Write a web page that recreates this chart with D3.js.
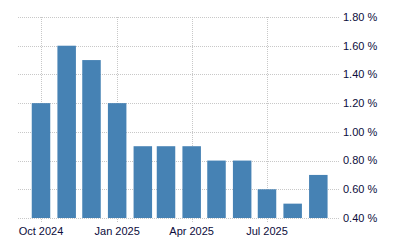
<!DOCTYPE html>
<html>
<head>
<meta charset="utf-8">
<script src="https://cdn.jsdelivr.net/npm/d3@7"></script>
<style>
  body { margin: 0; background: #fff; }
  svg { display: block; }
  text { font-family: "Liberation Sans", Arial, sans-serif; font-size: 11px; fill: #0c0c3c; }
</style>
</head>
<body>
<svg id="chart" width="400" height="250"></svg>
<script>
// monthly values, Oct 2024 .. Sep 2025
const months = ['2024-10', '2024-11', '2024-12', '2025-01', '2025-02', '2025-03',
  '2025-04', '2025-05', '2025-06', '2025-07', '2025-08', '2025-09'];
const values = [1.2, 1.6, 1.5, 1.2, 0.9, 0.9, 0.9, 0.8, 0.8, 0.6, 0.5, 0.7];
const yTicks = [0.4, 0.6, 0.8, 1.0, 1.2, 1.4, 1.6, 1.8];
const xTicks = ['2024-10', '2025-01', '2025-04', '2025-07'];

const parse = d3.timeParse('%Y-%m');
const data = months.map((m, i) => ({ date: parse(m), value: values[i] }));

const svg = d3.select('#chart');
const plot = { left: 18, right: 340, top: 17, bottom: 218 };

const x = d3.scaleTime()
  .domain([parse('2024-10'), parse('2025-07')])
  .range([41, 267]);

const y = d3.scaleLinear()
  .domain([0.4, 1.8])
  .range([plot.bottom, plot.top]);

const barW = 18.5;

// horizontal grid
svg.append('g')
  .selectAll('line')
  .data(yTicks)
  .join('line')
  .attr('x1', plot.left)
  .attr('x2', plot.right)
  .attr('y1', d => Math.round(y(d)) + 0.5)
  .attr('y2', d => Math.round(y(d)) + 0.5)
  .attr('stroke', '#c8c8c8')
  .attr('stroke-dasharray', '1,1');

// vertical grid + ticks
svg.append('g')
  .selectAll('line')
  .data(xTicks.map(parse))
  .join('line')
  .attr('x1', d => Math.round(x(d)) + 0.5)
  .attr('x2', d => Math.round(x(d)) + 0.5)
  .attr('y1', plot.top)
  .attr('y2', plot.bottom + 4)
  .attr('stroke', '#c8c8c8')
  .attr('stroke-dasharray', '1,1');

// bars
svg.append('g')
  .selectAll('rect')
  .data(data)
  .join('rect')
  .attr('x', d => x(d.date) - barW / 2)
  .attr('width', barW)
  .attr('y', d => y(d.value))
  .attr('height', d => y(0.4) - y(d.value))
  .attr('fill', '#4682b4');

// y labels (right)
svg.append('g')
  .selectAll('text')
  .data(yTicks)
  .join('text')
  .attr('x', 343)
  .attr('y', d => y(d))
  .attr('dy', '0.35em')
  .text(d => d3.format('.2f')(d) + ' %');

// x labels
const fmt = d3.timeFormat('%b %Y');
svg.append('g')
  .selectAll('text')
  .data(xTicks.map(parse))
  .join('text')
  .attr('x', d => x(d))
  .attr('y', 235)
  .attr('text-anchor', 'middle')
  .text(d => fmt(d));
</script>
</body>
</html>
